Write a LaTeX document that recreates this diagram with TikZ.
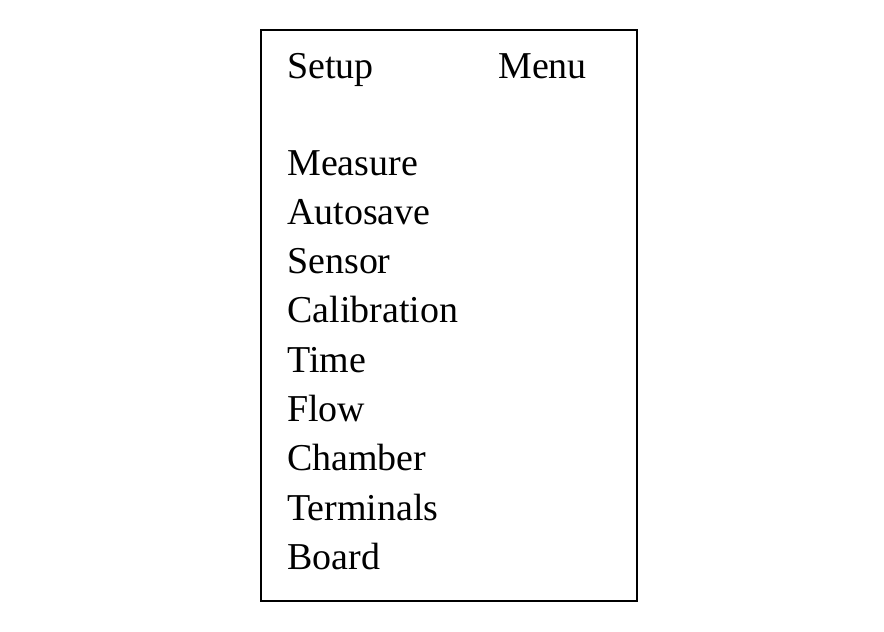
\documentclass[tikz,border=0pt]{standalone}
\usepackage{fontspec}
\setmainfont{Liberation Serif}
\begin{document}
\begin{tikzpicture}[x=0.025cm,y=-0.025cm]
 \tikzstyle{entry}=[anchor=base west, inner sep=0pt, font=\fontsize{27}{30}\selectfont]
 \useasboundingbox (0,0) rectangle (884,632);
 %
 \node[draw, line width=1.3pt, minimum width=376*0.025cm, minimum height=571*0.025cm, anchor=north west, inner sep=0pt] (frame) at (260,29) {};
 \node[entry] (setup) at (287,78) {Setup};
 \node[entry] (menu) at (498,78) {Menu};
 %
 \foreach \name [count=\i from 0] in {Measure,Autosave,Sensor,Calibration,Time,Flow,Chamber,Terminals,Board}
  \node[entry] (item\i) at (287,175+49.3*\i) {\name};
\end{tikzpicture}
\end{document}
